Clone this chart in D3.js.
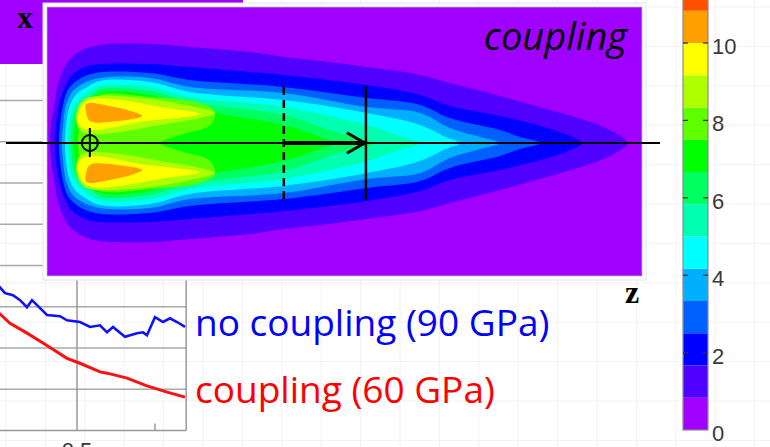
<!DOCTYPE html>
<html>
<head>
<meta charset="utf-8">
<script src="https://cdn.jsdelivr.net/npm/d3@7"></script>
<style>
  body { margin: 0; background: #fff; }
  svg { display: block; }
</style>
</head>
<body>
<div id="chart"></div>
<script>
// ---- colour levels of the contour plot ----
const bandStep = 12.5 / 15;
const bandColors = ["#a000ff", "#5000ff", "#0000ff", "#0060ff", "#00b0ff", "#00ffff", "#00ffb0",
  "#00ff60", "#00ff00", "#60ff00", "#b0ff00", "#ffff00", "#ffa000", "#ff5000", "#ff0000"];
const cbTicks = [0, 2, 4, 6, 8, 10];

// ---- contour outlines, upper half, [z (% of length), x] ----
const level1 = [[0.5,0],[0.7,6],[1.2,12.7],[1.8,19.3],[2.9,25],[4.2,28.7],[6.4,31.3],[8.9,32.7],[17.3,33],[24,32],[34.1,30.3],[39.7,28.7],[45.9,27.3],[53.8,25.3],[62.7,22.7],[67.7,20],[76.1,15.7],[84.5,11],[91.3,7],[94.6,4.3],[96.6,2],[97.6,0]];
const level2 = [[1.3,0],[1.5,6],[2,12.7],[2.9,18.3],[4.2,22.7],[6.4,25.3],[8.9,26.3],[17.3,26.3],[24,25.3],[34.1,23.7],[39.7,22.7],[53.8,19.3],[62.7,16],[67.7,12.3],[76.1,9],[82.9,5.7],[87.1,3],[89.9,0]];
const level3 = [[2,0],[2.2,6],[2.7,12.7],[3.5,17.7],[5.2,21],[8.1,23.3],[17.3,23.3],[24,21],[39.7,18.7],[53.8,15],[62.7,12.7],[67.7,8.3],[76.1,4.3],[79.5,2],[82.9,0]];
const level4 = [[2.5,0],[2.7,6],[3.2,12.7],[4.2,17],[5.9,19.7],[8.9,21.7],[17.3,21.7],[24,18.7],[39.7,16.7],[53.8,12],[62.7,10],[67.7,5],[72.8,2],[76.1,0]];
const level5 = [[3,0],[3.2,6],[3.7,11.7],[4.7,15.7],[6.4,18.3],[8.9,20.7],[17.3,20.3],[24,17],[39.7,14.3],[53.8,10],[62.7,6],[67,2],[69.4,0]];
const level6 = [[3.5,0],[3.7,6],[4.2,11],[5.2,14.3],[6.9,17],[8.9,19],[17.3,18.7],[24,15.3],[39.7,12],[53.8,6],[59.3,2.3],[62.7,0]];
const level7 = [[4,0],[4.2,6],[4.7,10.3],[5.9,13.7],[7.6,16],[8.9,18],[17.3,17.3],[24,13.7],[39.7,9.3],[49,3.3],[55.1,0]];
const level8 = [[4.5,0],[4.7,6],[5.2,10],[6.4,12.7],[8.9,16.7],[17.3,16],[24,11.7],[39.7,6],[45.9,2],[48.4,0]];
const level9 = [[5.2,0],[5.5,6],[5.9,10],[6.9,13.3],[8.9,16],[17.3,15.3],[25.7,13.3],[28.2,10.3],[27.4,6],[22.4,2.7],[19,0]];
const lobe10 = [[4.9,7.7],[5.2,11.7],[6.4,14.7],[8.9,15.7],[17.3,14.7],[24,12.3],[28.2,10],[25.7,8.3],[19,6],[12.3,3.7],[7.2,3],[5.5,4.3]];
const lobe11 = [[5.2,8.3],[5.9,12.7],[7.6,14.7],[12.3,14.3],[19,12],[25.7,9.7],[21.5,8.3],[15.6,7],[10.6,5],[7.2,4.3],[5.5,5.7]];
const lobe12 = [[6.6,13],[11.3,12],[14.6,10.3],[16,9],[11.8,7.3],[7.2,7.3],[6.6,10]];

// ---- background line chart ----
const noCouplingT = [0.3974,0.4077,0.4179,0.427,0.4359,0.4423,0.4487,0.4615,0.4782,0.4872,0.5038,0.5167,0.5295,0.5385,0.5462,0.5615,0.5769,0.5846,0.5897,0.6,0.6103,0.6192,0.6282,0.6385];
const noCouplingP = [35.5,33.3,32.8,31.6,29.9,31.6,30.4,28.0,27.7,26.7,26.3,25.1,25.5,23.8,25.1,22.7,23.6,23.8,23.1,27.5,26.3,27.2,26.3,25.1];
const couplingT = [0.3974,0.4141,0.4359,0.4564,0.4872,0.5038,0.5295,0.5385,0.5641,0.5897,0.6154,0.6385];
const couplingP = [28.9,26.0,23.6,21.2,17.5,16.3,14.2,13.9,12.7,10.8,9.3,8.1];
const lineGrid = [10, 20, 30, 40, 50, 60, 70, 80];

const W = 770, H = 447;
const svg = d3.select("#chart").append("svg").attr("width", W).attr("height", H);

// faint page grid
const pg = svg.append("g").attr("stroke", "#f2f2f2").attr("stroke-width", 1);
d3.range(6, W, 39.4).forEach(x => pg.append("line").attr("x1", x).attr("x2", x).attr("y1", 0).attr("y2", H));
d3.range(7, H, 39.4).forEach(y => pg.append("line").attr("x1", 0).attr("x2", W).attr("y1", y).attr("y2", y));

// ---- left line chart (mostly hidden) ----
const lx = d3.scaleLinear().domain([0.4, 0.64]).range([-1, 186.2]);
const ly = d3.scaleLinear().domain([0, 80]).range([430.5, 100.5]);
const lc = svg.append("g");
lc.append("g").selectAll("line").data(lineGrid).join("line")
  .attr("x1", 0).attr("x2", lx(0.64))
  .attr("y1", d => ly(d)).attr("y2", d => ly(d))
  .attr("stroke", "#aaa").attr("stroke-width", 1.5);
lc.append("line").attr("x1", lx(0.5)).attr("x2", lx(0.5)).attr("y1", ly(0)).attr("y2", ly(90))
  .attr("stroke", "#999").attr("stroke-width", 1.5);
lc.append("line").attr("x1", lx(0.64)).attr("x2", lx(0.64)).attr("y1", ly(0)).attr("y2", ly(90))
  .attr("stroke", "#999").attr("stroke-width", 1.5);
lc.append("line").attr("x1", 0).attr("x2", lx(0.64)).attr("y1", ly(0)).attr("y2", ly(0))
  .attr("stroke", "#999").attr("stroke-width", 1.5);
lc.append("line").attr("x1", lx(0.6)).attr("x2", lx(0.6)).attr("y1", ly(0)).attr("y2", ly(0) - 7)
  .attr("stroke", "#999").attr("stroke-width", 1.5);
// tick label is cut by the bottom edge in the source figure
lc.append("text").attr("x", lx(0.5)).attr("y", 458).attr("text-anchor", "middle")
  .attr("font-family", "Liberation Sans, Arial, sans-serif").attr("font-size", 22).attr("fill", "#333")
  .text("0.5");

svg.append("clipPath").attr("id", "lclip").append("rect")
  .attr("x", 0).attr("y", 0).attr("width", lx(0.64)).attr("height", ly(0));
const tp = d3.line().x(d => lx(d[0])).y(d => ly(d[1]));
lc.append("path").attr("clip-path", "url(#lclip)")
  .datum(d3.zip(noCouplingT, noCouplingP))
  .attr("fill", "none").attr("stroke", "#1010ff").attr("stroke-width", 2.6).attr("d", tp);
lc.append("path").attr("clip-path", "url(#lclip)")
  .datum(d3.zip(couplingT, couplingP))
  .attr("fill", "none").attr("stroke", "#ff1010").attr("stroke-width", 3).attr("d", tp);

// ---- second contour plot peeking out at top-left ----
svg.append("rect").attr("x", 0).attr("y", 0).attr("width", 243).attr("height", 64).attr("fill", bandColors[0]);
svg.append("text").attr("x", 25).attr("y", 28).attr("text-anchor", "middle")
  .attr("font-family", "Liberation Serif, Times New Roman, serif").attr("font-size", 32)
  .attr("font-weight", "bold").text("x");

// ---- main contour plot ----
const cz = d3.scaleLinear().domain([0, 100]).range([47, 642]);
const cx = d3.scaleLinear().domain([-45, 45]).range([278, 8]);

svg.append("rect").attr("x", 43).attr("y", 3).attr("width", 603).attr("height", 277)
  .attr("fill", "#fff").attr("stroke", "#e4e4e4").attr("stroke-width", 1);

svg.append("clipPath").attr("id", "cclip").append("rect")
  .attr("x", cz(0)).attr("y", 7).attr("width", cz(100) - cz(0)).attr("height", 269);

const cp = svg.append("g").attr("clip-path", "url(#cclip)");
cp.append("rect").attr("x", cz(0)).attr("y", 7).attr("width", cz(100) - cz(0)).attr("height", 269)
  .attr("fill", bandColors[0]);

const outline = d3.line().x(d => cz(d[0])).y(d => cx(d[1])).curve(d3.curveCatmullRomClosed.alpha(0.5));
const plume = top => top.concat(top.slice(1, -1).reverse().map(d => [d[0], -d[1]]));
const mirror = lobe => lobe.map(d => [d[0], -d[1]]);

[level1, level2, level3, level4, level5, level6, level7, level8, level9].forEach((lv, i) => {
  cp.append("path").attr("d", outline(plume(lv))).attr("fill", bandColors[i + 1]);
});
[lobe10, lobe11, lobe12].forEach((lb, i) => {
  cp.append("path").attr("d", outline(lb)).attr("fill", bandColors[i + 10]);
  cp.append("path").attr("d", outline(mirror(lb))).attr("fill", bandColors[i + 10]);
});
svg.append("rect").attr("x", cz(0)).attr("y", 7).attr("width", cz(100) - cz(0)).attr("height", 269)
  .attr("fill", "none").attr("stroke", "#b9b9b9").attr("stroke-width", 0.8);

// annotations
const ann = svg.append("g").attr("stroke", "#000").attr("fill", "none");
ann.append("line").attr("x1", 6).attr("x2", 660).attr("y1", cx(0)).attr("y2", cx(0)).attr("stroke-width", 2.2);
ann.append("line").attr("x1", cz(39.8)).attr("x2", cz(53.5)).attr("y1", cx(0)).attr("y2", cx(0)).attr("stroke-width", 4);
ann.append("line").attr("x1", cz(39.8)).attr("x2", cz(39.8)).attr("y1", cx(18.7)).attr("y2", cx(-19))
  .attr("stroke-width", 2.5).attr("stroke-dasharray", "8,5");
ann.append("line").attr("x1", cz(53.6)).attr("x2", cz(53.6)).attr("y1", cx(18.7)).attr("y2", cx(-19))
  .attr("stroke-width", 2.5);
ann.append("path").attr("stroke-width", 3)
  .attr("d", d3.line()([[cz(50.4), cx(3.4)], [cz(53.4), cx(0)], [cz(50.4), cx(-3.4)]]));
ann.append("circle").attr("cx", cz(7.2)).attr("cy", cx(0)).attr("r", 8).attr("stroke-width", 2);
ann.append("line").attr("x1", cz(7.2)).attr("x2", cz(7.2)).attr("y1", cx(5)).attr("y2", cx(-4.7)).attr("stroke-width", 2);

svg.append("text").attr("x", 627).attr("y", 50).attr("text-anchor", "end")
  .attr("font-family", "Open Sans, sans-serif").attr("font-style", "italic").attr("font-size", 38)
  .text("coupling");
svg.append("text").attr("x", 632).attr("y", 303).attr("text-anchor", "middle")
  .attr("font-family", "Liberation Serif, Times New Roman, serif").attr("font-size", 32)
  .attr("font-weight", "bold").text("z");

// legend
svg.append("text").attr("x", 195).attr("y", 336)
  .attr("font-family", "Open Sans, sans-serif").attr("font-size", 37).attr("fill", "#0000ff")
  .text("no coupling (90 GPa)");
svg.append("text").attr("x", 195).attr("y", 403)
  .attr("font-family", "Open Sans, sans-serif").attr("font-size", 37).attr("fill", "#ff0000")
  .text("coupling (60 GPa)");

// ---- colour bar ----
const cb = d3.scaleLinear().domain([0, 10]).range([430, 43]);
const cbg = svg.append("g");
cbg.selectAll("rect").data(bandColors).join("rect")
  .attr("x", 683).attr("width", 25)
  .attr("y", (c, i) => cb((i + 1) * bandStep))
  .attr("height", (c, i) => cb(i * bandStep) - cb((i + 1) * bandStep))
  .attr("fill", c => c);
cbg.append("rect").attr("x", 683).attr("y", -5).attr("width", 25).attr("height", 435)
  .attr("fill", "none").attr("stroke", "#8c8c8c").attr("stroke-width", 1.2);
cbTicks.filter(v => v > 0).forEach(v => {
  cbg.append("line").attr("x1", 683).attr("x2", 688).attr("y1", cb(v)).attr("y2", cb(v)).attr("stroke", "#333").attr("stroke-width", 1.3);
  cbg.append("line").attr("x1", 703).attr("x2", 708).attr("y1", cb(v)).attr("y2", cb(v)).attr("stroke", "#333").attr("stroke-width", 1.3);
});
cbg.selectAll("text").data(cbTicks).join("text")
  .attr("x", 712).attr("y", v => cb(v) + 11)
  .attr("font-family", "Liberation Sans, Arial, sans-serif").attr("font-size", 22).attr("fill", "#3a3a3a")
  .text(v => v);
</script>
</body>
</html>
